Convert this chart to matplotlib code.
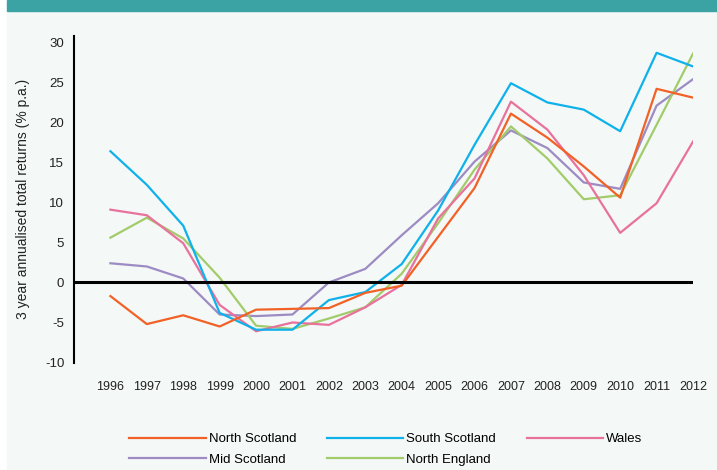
import matplotlib.pyplot as plt
from matplotlib.patches import Rectangle

# data
years = list(range(1996, 2013))
north_scotland = [-1.7, -5.2, -4.1, -5.5, -3.4, -3.3, -3.2, -1.3, -0.4, 5.7, 11.8, 21.1, 18.1, 14.5, 10.6, 24.2, 23.1]
south_scotland = [16.4, 12.2, 7.1, -3.8, -5.9, -5.9, -2.2, -1.2, 2.3, 9.0, 17.2, 24.9, 22.5, 21.6, 18.9, 28.7, 27.0]
wales = [9.1, 8.4, 4.9, -2.8, -6.1, -5.0, -5.3, -3.1, -0.3, 8.0, 13.0, 22.6, 19.1, 13.4, 6.2, 9.9, 17.6]
mid_scotland = [2.4, 2.0, 0.5, -4.0, -4.2, -4.0, 0.0, 1.7, 5.9, 9.9, 15.1, 19.0, 16.8, 12.5, 11.7, 22.1, 25.4]
north_england = [5.6, 8.1, 5.5, 0.6, -5.4, -5.8, -4.5, -3.1, 1.1, 7.4, 14.1, 19.5, 15.5, 10.4, 10.9, 19.7, 28.6]

plt.rcParams['font.family'] = ['Liberation Sans', 'DejaVu Sans']
plt.rcParams['axes.unicode_minus'] = False

bg = '#f4f8f7'
fig = plt.figure(figsize=(7.17, 4.70), dpi=100, facecolor='white')
fig.patches.append(Rectangle((7/717, 0), 1, 1, transform=fig.transFigure, color=bg, zorder=-2))
fig.patches.append(Rectangle((7/717, 1 - 11/470), 1, 11/470, transform=fig.transFigure, color='#3ba3a3', zorder=-1))

ax = fig.add_axes([74/717, (470-362.5)/470, (693-74)/717, (362.5-36)/470])
ax.set_facecolor(bg)

lw = 1.6
l_mid, = ax.plot(years, mid_scotland, color='#9d8bc3', lw=lw, label='Mid Scotland')
l_ne, = ax.plot(years, north_england, color='#a2cc6a', lw=lw, label='North England')
l_wal, = ax.plot(years, wales, color='#e8729c', lw=lw, label='Wales')
l_ss, = ax.plot(years, south_scotland, color='#0fb1ea', lw=lw, label='South Scotland')
l_ns, = ax.plot(years, north_scotland, color='#f26125', lw=lw, label='North Scotland')

ax.axhline(0, color='black', lw=2.2, zorder=5)

ax.set_xlim(1995, 2012)
ax.set_ylim(-10, 30.8)
ax.set_yticks(range(-10, 31, 5))
ax.set_xticks(years)
ax.tick_params(axis='y', length=0, pad=7, labelsize=9.5, colors='#222222')
ax.tick_params(axis='x', length=0, pad=13, labelsize=9, colors='#222222')
for s in ['top', 'right', 'bottom']:
    ax.spines[s].set_visible(False)
ax.spines['left'].set_linewidth(1.5)
ax.set_ylabel('3 year annualised total returns (% p.a.)', fontsize=10, color='#222222', labelpad=11)

fig.legend([l_ns, l_mid, l_ss, l_ne, l_wal],
           ['North Scotland', 'Mid Scotland', 'South Scotland', 'North England', 'Wales'],
           ncol=3, loc='upper left', bbox_to_anchor=(129/717, 1 - 433/470),
           frameon=False, fontsize=9.5, handlelength=5.8, handletextpad=0.25,
           columnspacing=2.3, labelspacing=0.65, borderaxespad=0, borderpad=0)

fig.savefig('out.png', dpi=100, facecolor=fig.get_facecolor())
